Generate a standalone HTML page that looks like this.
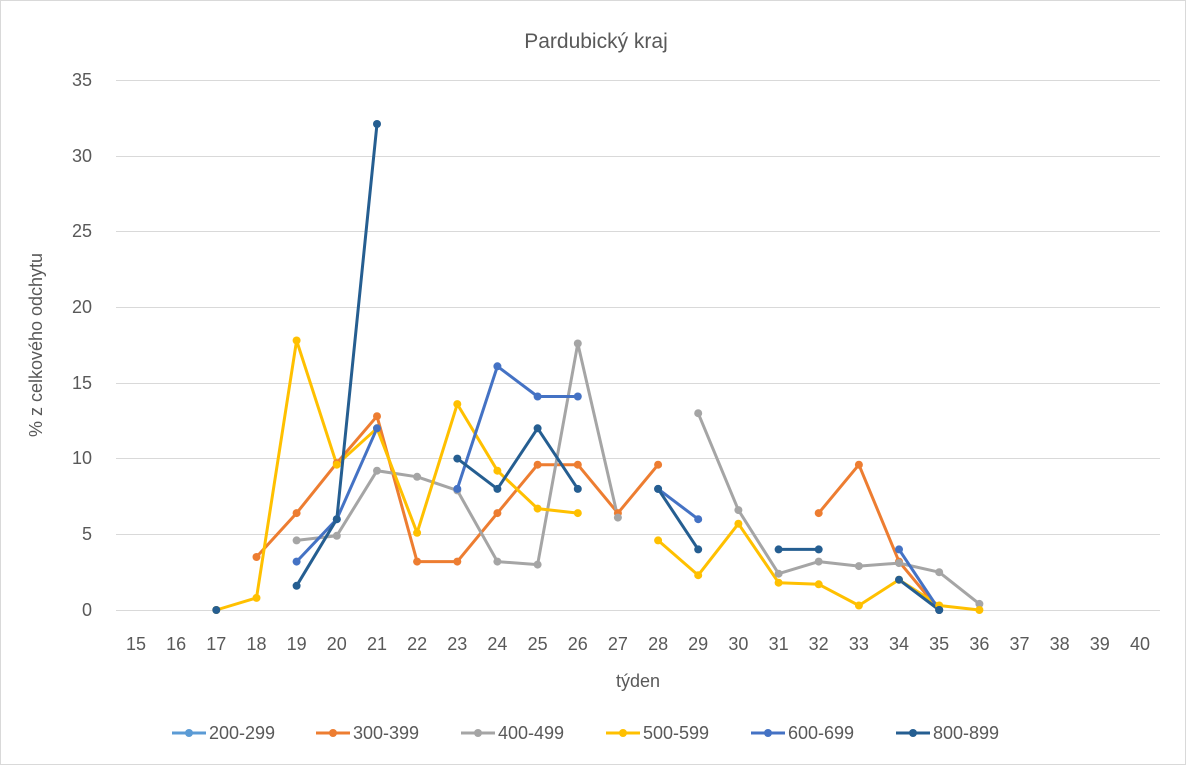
<!DOCTYPE html>
<html><head><meta charset="utf-8"><style>
html,body{margin:0;padding:0;background:#fff}
svg{display:block;font-family:"Liberation Sans",sans-serif}
</style></head><body>
<svg width="1192" height="770" viewBox="0 0 1192 770" xmlns="http://www.w3.org/2000/svg">
<rect x="0.5" y="0.5" width="1185" height="764" fill="#fff" stroke="#d9d9d9"/>
<text x="596" y="48" font-size="21" fill="#595959" text-anchor="middle">Pardubický kraj</text>
<g stroke="#d9d9d9" stroke-width="1">
<line x1="116" x2="1160" y1="80.5" y2="80.5"/><line x1="116" x2="1160" y1="156.5" y2="156.5"/>
<line x1="116" x2="1160" y1="231.5" y2="231.5"/><line x1="116" x2="1160" y1="307.5" y2="307.5"/>
<line x1="116" x2="1160" y1="383.5" y2="383.5"/><line x1="116" x2="1160" y1="458.5" y2="458.5"/>
<line x1="116" x2="1160" y1="534.5" y2="534.5"/><line x1="116" x2="1160" y1="610.5" y2="610.5"/>
</g>
<g font-size="18" fill="#595959" text-anchor="end">
<text x="92" y="86">35</text><text x="92" y="162">30</text><text x="92" y="237">25</text>
<text x="92" y="313">20</text><text x="92" y="389">15</text><text x="92" y="464">10</text>
<text x="92" y="540">5</text><text x="92" y="616">0</text>
</g>
<g font-size="18" fill="#595959" text-anchor="middle">
<text x="136" y="650">15</text><text x="176.2" y="650">16</text><text x="216.3" y="650">17</text><text x="256.5" y="650">18</text>
<text x="296.6" y="650">19</text><text x="336.8" y="650">20</text><text x="377" y="650">21</text><text x="417.1" y="650">22</text>
<text x="457.3" y="650">23</text><text x="497.4" y="650">24</text><text x="537.6" y="650">25</text><text x="577.8" y="650">26</text>
<text x="617.9" y="650">27</text><text x="658.1" y="650">28</text><text x="698.2" y="650">29</text><text x="738.4" y="650">30</text>
<text x="778.6" y="650">31</text><text x="818.7" y="650">32</text><text x="858.9" y="650">33</text><text x="899" y="650">34</text>
<text x="939.2" y="650">35</text><text x="979.4" y="650">36</text><text x="1019.5" y="650">37</text><text x="1059.7" y="650">38</text>
<text x="1099.8" y="650">39</text><text x="1140" y="650">40</text>
</g>
<text x="638" y="687" font-size="18" fill="#595959" text-anchor="middle">týden</text>
<text transform="translate(42,345) rotate(-90)" font-size="18" fill="#595959" text-anchor="middle">% z celkového odchytu</text>

<g fill="none" stroke-width="3" stroke-linejoin="round">
<!-- 300-399 -->
<polyline stroke="#ED7D31" points="256.5,557 296.6,513.1 336.8,463.1 377,416.2 417.1,561.6 457.3,561.6 497.4,513.1 537.6,464.7 577.8,464.7 617.9,513.1 658.1,464.7"/>
<polyline stroke="#ED7D31" points="818.7,513.1 858.9,464.7 899,561.6 939.2,610"/>
<!-- 400-499 -->
<polyline stroke="#A5A5A5" points="296.6,540.4 336.8,535.8 377,470.7 417.1,476.8 457.3,490.4 497.4,561.6 537.6,564.6 577.8,343.5 617.9,517.6"/>
<polyline stroke="#A5A5A5" points="698.2,413.2 738.4,510.1 778.6,573.7 818.7,561.6 858.9,566.1 899,563.1 939.2,572.2 979.4,603.9"/>
<!-- 500-599 -->
<polyline stroke="#FFC000" points="216.3,610 256.5,597.9 296.6,340.5 336.8,464.7 377,428.3 417.1,532.8 457.3,404.1 497.4,470.7 537.6,508.6 577.8,513.1"/>
<polyline stroke="#FFC000" points="658.1,540.4 698.2,575.2 738.4,523.7 778.6,582.7 818.7,584.3 858.9,605.5 899,579.7 939.2,605.5 979.4,610"/>
<!-- 600-699 -->
<polyline stroke="#4472C4" points="296.6,561.6 336.8,519.2 377,428.3"/>
<polyline stroke="#4472C4" points="457.3,488.9 497.4,366.3 537.6,396.5 577.8,396.5"/>
<polyline stroke="#4472C4" points="658.1,488.9 698.2,519.2"/>
<polyline stroke="#4472C4" points="899,549.4 939.2,610"/>
<!-- 800-899 -->
<polyline stroke="#255E91" points="296.6,585.8 336.8,519.2 377,124"/>
<polyline stroke="#255E91" points="457.3,458.6 497.4,488.9 537.6,428.3 577.8,488.9"/>
<polyline stroke="#255E91" points="658.1,488.9 698.2,549.4"/>
<polyline stroke="#255E91" points="778.6,549.4 818.7,549.4"/>
<polyline stroke="#255E91" points="899,579.7 939.2,610"/>
</g>
<g fill="#ED7D31">
<circle cx="256.5" cy="557" r="4"/><circle cx="296.6" cy="513.1" r="4"/><circle cx="336.8" cy="463.1" r="4"/><circle cx="377" cy="416.2" r="4"/><circle cx="417.1" cy="561.6" r="4"/><circle cx="457.3" cy="561.6" r="4"/><circle cx="497.4" cy="513.1" r="4"/><circle cx="537.6" cy="464.7" r="4"/><circle cx="577.8" cy="464.7" r="4"/><circle cx="617.9" cy="513.1" r="4"/><circle cx="658.1" cy="464.7" r="4"/><circle cx="818.7" cy="513.1" r="4"/><circle cx="858.9" cy="464.7" r="4"/><circle cx="899" cy="561.6" r="4"/><circle cx="939.2" cy="610" r="4"/>
</g>
<g fill="#A5A5A5">
<circle cx="296.6" cy="540.4" r="4"/><circle cx="336.8" cy="535.8" r="4"/><circle cx="377" cy="470.7" r="4"/><circle cx="417.1" cy="476.8" r="4"/><circle cx="457.3" cy="490.4" r="4"/><circle cx="497.4" cy="561.6" r="4"/><circle cx="537.6" cy="564.6" r="4"/><circle cx="577.8" cy="343.5" r="4"/><circle cx="617.9" cy="517.6" r="4"/><circle cx="698.2" cy="413.2" r="4"/><circle cx="738.4" cy="510.1" r="4"/><circle cx="778.6" cy="573.7" r="4"/><circle cx="818.7" cy="561.6" r="4"/><circle cx="858.9" cy="566.1" r="4"/><circle cx="899" cy="563.1" r="4"/><circle cx="939.2" cy="572.2" r="4"/><circle cx="979.4" cy="603.9" r="4"/>
</g>
<g fill="#FFC000">
<circle cx="216.3" cy="610" r="4"/><circle cx="256.5" cy="597.9" r="4"/><circle cx="296.6" cy="340.5" r="4"/><circle cx="336.8" cy="464.7" r="4"/><circle cx="377" cy="428.3" r="4"/><circle cx="417.1" cy="532.8" r="4"/><circle cx="457.3" cy="404.1" r="4"/><circle cx="497.4" cy="470.7" r="4"/><circle cx="537.6" cy="508.6" r="4"/><circle cx="577.8" cy="513.1" r="4"/><circle cx="658.1" cy="540.4" r="4"/><circle cx="698.2" cy="575.2" r="4"/><circle cx="738.4" cy="523.7" r="4"/><circle cx="778.6" cy="582.7" r="4"/><circle cx="818.7" cy="584.3" r="4"/><circle cx="858.9" cy="605.5" r="4"/><circle cx="899" cy="579.7" r="4"/><circle cx="939.2" cy="605.5" r="4"/><circle cx="979.4" cy="610" r="4"/>
</g>
<g fill="#4472C4">
<circle cx="296.6" cy="561.6" r="4"/><circle cx="336.8" cy="519.2" r="4"/><circle cx="377" cy="428.3" r="4"/><circle cx="457.3" cy="488.9" r="4"/><circle cx="497.4" cy="366.3" r="4"/><circle cx="537.6" cy="396.5" r="4"/><circle cx="577.8" cy="396.5" r="4"/><circle cx="658.1" cy="488.9" r="4"/><circle cx="698.2" cy="519.2" r="4"/><circle cx="899" cy="549.4" r="4"/><circle cx="939.2" cy="610" r="4"/>
</g>
<g fill="#255E91">
<circle cx="216.3" cy="610" r="4"/><circle cx="296.6" cy="585.8" r="4"/><circle cx="336.8" cy="519.2" r="4"/><circle cx="377" cy="124" r="4"/><circle cx="457.3" cy="458.6" r="4"/><circle cx="497.4" cy="488.9" r="4"/><circle cx="537.6" cy="428.3" r="4"/><circle cx="577.8" cy="488.9" r="4"/><circle cx="658.1" cy="488.9" r="4"/><circle cx="698.2" cy="549.4" r="4"/><circle cx="778.6" cy="549.4" r="4"/><circle cx="818.7" cy="549.4" r="4"/><circle cx="899" cy="579.7" r="4"/><circle cx="939.2" cy="610" r="4"/>
</g>

<g font-size="18" fill="#595959">
<line x1="172" x2="206" y1="733" y2="733" stroke="#5B9BD5" stroke-width="3"/><circle cx="189" cy="733" r="4" fill="#5B9BD5"/><text x="209" y="739">200-299</text>
<line x1="316" x2="350" y1="733" y2="733" stroke="#ED7D31" stroke-width="3"/><circle cx="333" cy="733" r="4" fill="#ED7D31"/><text x="353" y="739">300-399</text>
<line x1="461" x2="495" y1="733" y2="733" stroke="#A5A5A5" stroke-width="3"/><circle cx="478" cy="733" r="4" fill="#A5A5A5"/><text x="498" y="739">400-499</text>
<line x1="606" x2="640" y1="733" y2="733" stroke="#FFC000" stroke-width="3"/><circle cx="623" cy="733" r="4" fill="#FFC000"/><text x="643" y="739">500-599</text>
<line x1="751" x2="785" y1="733" y2="733" stroke="#4472C4" stroke-width="3"/><circle cx="768" cy="733" r="4" fill="#4472C4"/><text x="788" y="739">600-699</text>
<line x1="896" x2="930" y1="733" y2="733" stroke="#255E91" stroke-width="3"/><circle cx="913" cy="733" r="4" fill="#255E91"/><text x="933" y="739">800-899</text>
</g>
</svg>
</body></html>
